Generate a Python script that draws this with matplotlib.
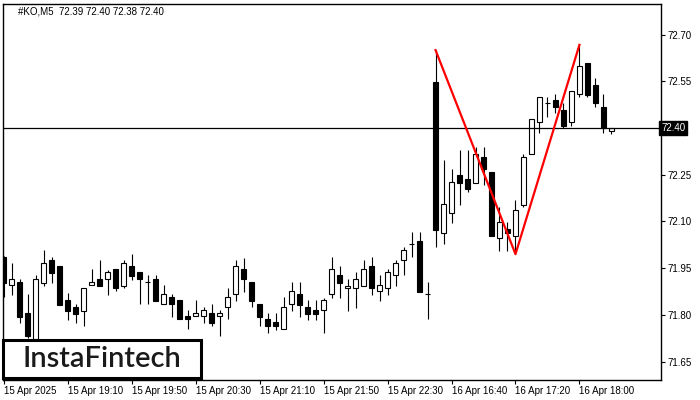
import matplotlib
matplotlib.use("Agg")
import matplotlib.pyplot as plt
from matplotlib.patches import Rectangle
import numpy as np

opens = [71.986, 71.896, 71.905, 71.806, 71.722, 71.902, 71.976, 71.957, 71.848, 71.825,
         71.812, 71.896, 71.915, 71.915, 71.947, 71.893, 71.957, 71.938, 71.905, 71.915,
         71.835, 71.857, 71.848, 71.796, 71.796, 71.796, 71.806, 71.796, 71.825, 71.867,
         71.947, 71.905, 71.835, 71.787, 71.777, 71.755, 71.835, 71.867, 71.825, 71.816,
         71.816, 71.867, 71.928, 71.886, 71.886, 71.893, 71.957, 71.877, 71.886, 71.928,
         71.976, 72.028, 72.037, 71.867, 72.548, 72.063, 72.127, 72.249, 72.236, 72.223,
         72.307, 72.259, 72.047, 72.076, 72.053, 72.153, 72.317, 72.419, 72.480, 72.490,
         72.458, 72.419, 72.509, 72.609, 72.538, 72.467, 72.39]
highs = [71.990, 71.966, 71.915, 71.867, 71.928, 72.008, 71.986, 71.957, 71.870, 71.835,
         71.886, 71.947, 71.976, 71.944, 71.947, 71.976, 71.995, 71.938, 71.928, 71.928,
         71.896, 71.867, 71.848, 71.816, 71.848, 71.825, 71.835, 71.816, 71.886, 71.976,
         71.983, 71.905, 71.835, 71.806, 71.806, 71.857, 71.905, 71.905, 71.848, 71.848,
         71.854, 71.986, 71.957, 71.915, 71.938, 71.976, 71.986, 71.928, 71.947, 71.976,
         72.018, 72.066, 72.066, 71.905, 72.650, 72.297, 72.268, 72.329, 72.329, 72.339,
         72.339, 72.259, 72.146, 72.098, 72.169, 72.317, 72.429, 72.500, 72.500, 72.509,
         72.480, 72.519, 72.667, 72.609, 72.561, 72.509, 72.40]
lows = [71.857, 71.864, 71.774, 71.726, 71.719, 71.893, 71.902, 71.832, 71.783, 71.774,
        71.764, 71.896, 71.893, 71.864, 71.877, 71.886, 71.912, 71.835, 71.835, 71.844,
        71.835, 71.793, 71.787, 71.755, 71.796, 71.774, 71.764, 71.732, 71.787, 71.844,
        71.873, 71.825, 71.764, 71.742, 71.751, 71.755, 71.812, 71.793, 71.783, 71.783,
        71.742, 71.854, 71.854, 71.812, 71.822, 71.893, 71.864, 71.844, 71.864, 71.893,
        71.928, 71.986, 71.873, 71.787, 72.018, 72.028, 72.095, 72.153, 72.194, 72.223,
        72.217, 72.053, 72.005, 72.005, 71.999, 72.146, 72.317, 72.384, 72.435, 72.448,
        72.400, 72.406, 72.500, 72.500, 72.467, 72.384, 72.38]
closes = [71.902, 71.915, 71.793, 71.732, 71.915, 71.966, 71.934, 71.832, 71.812, 71.803,
          71.886, 71.905, 71.893, 71.938, 71.886, 71.966, 71.925, 71.915, 71.905, 71.844,
          71.867, 71.835, 71.787, 71.787, 71.806, 71.816, 71.774, 71.806, 71.857, 71.957,
          71.915, 71.844, 71.793, 71.764, 71.764, 71.825, 71.877, 71.832, 71.803, 71.803,
          71.848, 71.947, 71.902, 71.893, 71.915, 71.947, 71.886, 71.896, 71.938, 71.966,
          72.008, 72.028, 71.873, 71.867, 72.072, 72.156, 72.227, 72.223, 72.204, 72.317,
          72.268, 72.053, 72.098, 72.063, 72.137, 72.307, 72.429, 72.500, 72.480, 72.467,
          72.406, 72.519, 72.599, 72.506, 72.480, 72.400, 72.40]

pattern_idx = [54, 64, 72]
pattern_px = [72.650, 71.995, 72.667]
current_price = 72.40

xtick_idx = [0, 8, 16, 24, 32, 40, 48, 56, 64, 72]
xtick_labels = ["15 Apr 2025", "15 Apr 19:10", "15 Apr 19:50", "15 Apr 20:30",
                "15 Apr 21:10", "15 Apr 21:50", "15 Apr 22:30", "16 Apr 16:40",
                "16 Apr 17:20", "16 Apr 18:00"]
yticks = [71.65, 71.80, 71.95, 72.10, 72.25, 72.55, 72.70]
title = "#KO,M5  72.39 72.40 72.38 72.40"

small_font = "Liberation Sans"

fig = plt.figure(figsize=(7, 4), dpi=100)
ax = fig.add_axes([3/700, 1 - 380/400, 658/700, 376/400])
ax.set_xlim(-0.1, 82.2)
ax.set_ylim(71.591, 72.798)

x = np.arange(len(opens))
o = np.array(opens); h = np.array(highs); l = np.array(lows); c = np.array(closes)

ax.vlines(x, l, h, color="black", linewidth=0.8, zorder=2)
bw = 0.6
for i in range(len(x)):
    lo, hi = min(o[i], c[i]), max(o[i], c[i])
    if hi - lo < 0.002:
        ax.hlines(o[i], x[i] - bw/2, x[i] + bw/2, color="black", linewidth=0.8, zorder=3)
    else:
        fc = "black" if c[i] < o[i] else "white"
        ax.bar(x[i], hi - lo, bottom=lo, width=bw, facecolor=fc, edgecolor="black",
               linewidth=0.8, zorder=3)

ax.axhline(current_price, color="black", linewidth=0.9, zorder=4)
ax.plot(pattern_idx, pattern_px, color="#ff0000", linewidth=1.6, zorder=5)

ax.yaxis.tick_right()
ax.set_yticks(yticks)
ax.set_yticklabels([f"{v:.2f}" for v in yticks], family=small_font)
ax.tick_params(axis="y", direction="out", length=3, width=0.8, labelsize=7, pad=2)
ax.set_xticks(xtick_idx)
ax.set_xticklabels(xtick_labels, ha="left", family=small_font)
ax.tick_params(axis="x", direction="out", length=3, width=0.8, labelsize=7, pad=1)
for lab in ax.get_xticklabels():
    lab.set_horizontalalignment("left")
for s in ax.spines.values():
    s.set_linewidth(1.0)

ax.text(1.0, current_price, f"{current_price:.2f}", transform=ax.get_yaxis_transform(),
        ha="left", va="center", fontsize=7, color="white", family=small_font,
        bbox=dict(boxstyle="square,pad=0.2", facecolor="black", edgecolor="black"))

fig.text(18/700, 1 - 11/400, title, fontsize=7, ha="left", va="center", family=small_font)

fig.add_artist(Rectangle((3/700, 1 - 378/400), 198/700, 38/400, transform=fig.transFigure,
                         facecolor="white", edgecolor="black", linewidth=2.2, zorder=10))
fig.text(102/700, 1 - 359/400, "InstaFintech", fontsize=21, ha="center", va="center",
         color="#1a1a1a", family="Lato", weight="semibold", zorder=11)

fig.savefig("out.png", dpi=100)
